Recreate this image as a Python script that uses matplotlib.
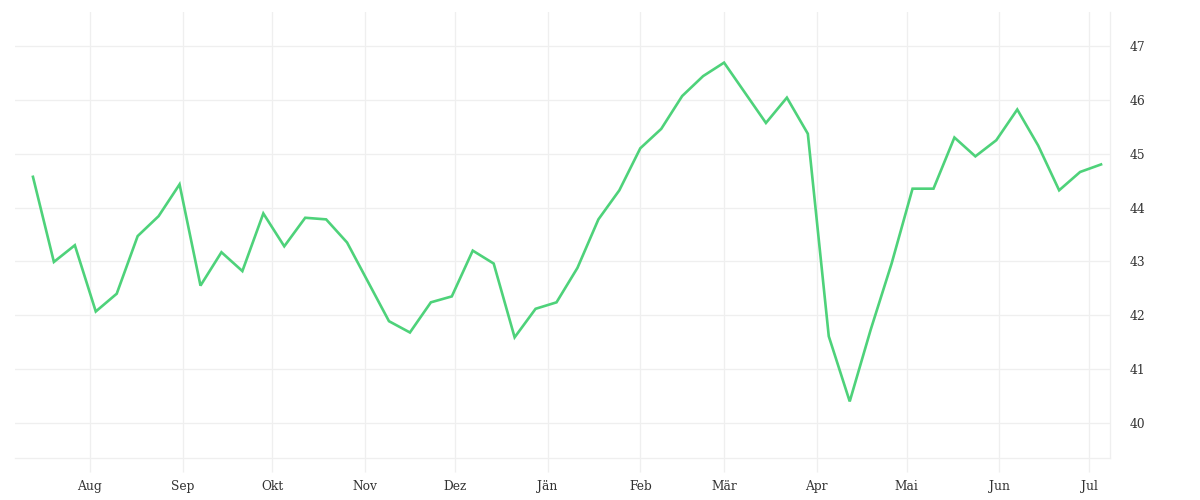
import pandas as pd
import matplotlib.pyplot as plt
import matplotlib.dates as mdates

# weekly values, Jul 2022 - Jul 2023
start_date = '2022-07-13'
values = [44.57, 42.99, 43.30, 42.07, 42.40, 43.47, 43.84, 44.43, 42.55, 43.17,
          42.82, 43.89, 43.28, 43.81, 43.78, 43.35, 42.62, 41.89, 41.68, 42.24,
          42.35, 43.20, 42.96, 41.59, 42.12, 42.24, 42.88, 43.78, 44.32, 45.10,
          45.46, 46.07, 46.44, 46.69, 46.13, 45.57, 46.04, 45.37, 41.61, 40.40,
          41.73, 42.96, 44.35, 44.35, 45.30, 44.95, 45.25, 45.82, 45.15, 44.32,
          44.66, 44.80]
month_labels = ['Aug', 'Sep', 'Okt', 'Nov', 'Dez', 'Jän', 'Feb', 'Mär', 'Apr', 'Mai', 'Jun', 'Jul']
y_ticks = [40, 41, 42, 43, 44, 45, 46, 47]

dates = pd.date_range(start_date, periods=len(values), freq='7D')
month_ticks = pd.date_range('2022-08-01', periods=len(month_labels), freq='MS')

plt.rcParams['font.family'] = ['DejaVu Serif']
fig = plt.figure(figsize=(12, 5), dpi=100)
ax = fig.add_axes([15 / 1200, 1 - 458 / 500, 1095 / 1200, 446 / 500])

grid_col = '#efefef'
ax.plot(dates, values, color='#4ed27a', lw=1.9, solid_joinstyle='miter', zorder=3)

ax.set_xlim(pd.Timestamp('2022-07-07'), pd.Timestamp('2023-07-08'))
ax.set_ylim(39.35, 47.63)

ax.set_xticks(month_ticks)
ax.set_xticklabels(month_labels)
ax.set_yticks(y_ticks)
ax.yaxis.tick_right()

ax.grid(True, color=grid_col, lw=0.9)
ax.tick_params(axis='x', length=10, color=grid_col, width=0.9, labelsize=8.8,
               labelcolor='#333333', pad=6)
ax.tick_params(axis='y', length=0, labelsize=8.8, labelcolor='#333333', pad=14)

for side in ['top', 'left']:
    ax.spines[side].set_visible(False)
for side in ['bottom', 'right']:
    ax.spines[side].set_color(grid_col)
    ax.spines[side].set_linewidth(0.9)

fig.savefig('out.png', dpi=100)
